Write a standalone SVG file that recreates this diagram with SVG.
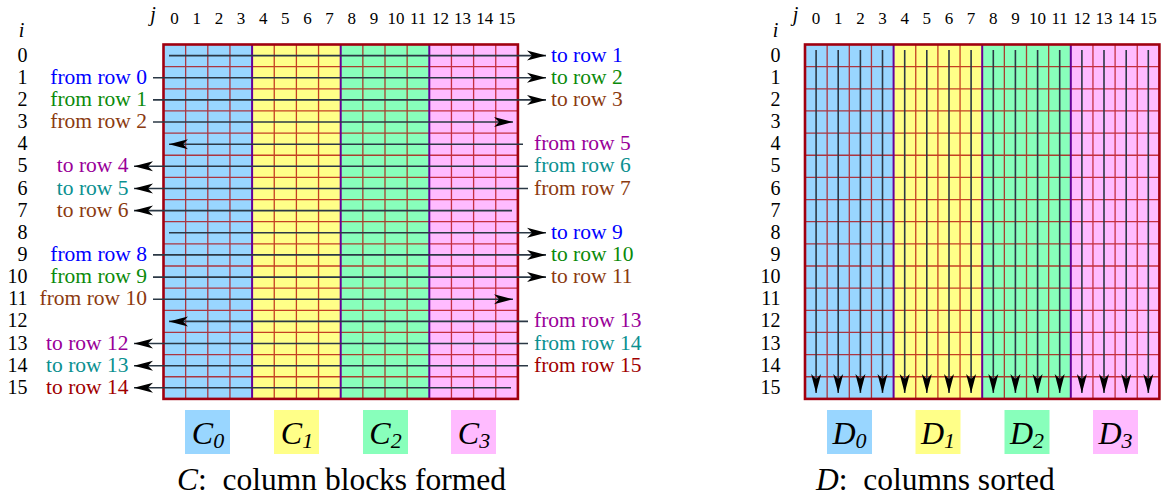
<svg xmlns="http://www.w3.org/2000/svg" xmlns:xlink="http://www.w3.org/1999/xlink" width="1165" height="502" viewBox="0 0 1165 502" font-family="'Liberation Serif', 'Times New Roman', serif">
<style>
text{font-family:'Liberation Serif','Times New Roman',serif;fill:#000}
tspan{font-family:'Liberation Serif','Times New Roman',serif}
.hdr{font-size:17px;text-anchor:middle}
.rn{font-size:20px;text-anchor:end}
.it{font-style:italic;font-size:20px;text-anchor:middle}
.lab{font-size:21.5px}
.e{text-anchor:end}
.blue{fill:#0000ff}.green{fill:#0a8a0a}.brown{fill:#8b3a0f}.purple{fill:#990099}.teal{fill:#0a9090}.dred{fill:#a00000}
.gl{fill:none;stroke:#b00000;stroke-opacity:0.75;stroke-width:1.3}
.sep{stroke:#660099;stroke-width:2}
.bd{fill:none;stroke:#a00010;stroke-width:2.6}
.dl{fill:none;stroke:#2b3845;stroke-width:1.6}
.big{font-size:32px;font-style:italic;text-anchor:middle}
.sub{font-size:22px}
.cap{font-size:31.5px}
</style>
<defs>
<marker id="ah" markerUnits="userSpaceOnUse" markerWidth="22" markerHeight="12" refX="19" refY="5" orient="auto" overflow="visible">
<path d="M0,0 L19,5 L0,10 L5,5 Z" fill="#000"/>
</marker>
<g id="gridbase">
<rect x="0" y="0" width="88.6" height="354.4" fill="#99d6ff"/>
<rect x="88.6" y="0" width="88.6" height="354.4" fill="#ffff88"/>
<rect x="177.2" y="0" width="88.6" height="354.4" fill="#88ffbb"/>
<rect x="265.8" y="0" width="88.6" height="354.4" fill="#ffbbff"/>
<path class="gl" d="M22.15 0V354.4M44.3 0V354.4M66.45 0V354.4M110.75 0V354.4M132.9 0V354.4M155.05 0V354.4M199.35 0V354.4M221.5 0V354.4M243.65 0V354.4M287.95 0V354.4M310.1 0V354.4M332.25 0V354.4M0 22.15H354.4M0 44.3H354.4M0 66.45H354.4M0 88.6H354.4M0 110.75H354.4M0 132.9H354.4M0 155.05H354.4M0 177.2H354.4M0 199.35H354.4M0 221.5H354.4M0 243.65H354.4M0 265.8H354.4M0 287.95H354.4M0 310.1H354.4M0 332.25H354.4"/>
<path class="sep" d="M88.6 0V354.4M177.2 0V354.4M265.8 0V354.4"/>
<rect class="bd" x="0" y="0" width="354.4" height="354.4"/>
</g>
</defs>

<g id="headers-left">
<text class="it" x="153" y="21">j</text>
<text class="it" x="21.5" y="37">i</text>
<text class="hdr" y="23.5"><tspan x="174.6">0</tspan><tspan x="196.7">1</tspan><tspan x="218.9">2</tspan><tspan x="241">3</tspan><tspan x="263.2">4</tspan><tspan x="285.3">5</tspan><tspan x="307.5">6</tspan><tspan x="329.6">7</tspan><tspan x="351.8">8</tspan><tspan x="373.9">9</tspan><tspan x="396.1">10</tspan><tspan x="418.2">11</tspan><tspan x="440.4">12</tspan><tspan x="462.5">13</tspan><tspan x="484.7">14</tspan><tspan x="506.8">15</tspan></text>
<text class="rn"><tspan x="27.5" y="61.6">0</tspan><tspan x="27.5" y="83.7">1</tspan><tspan x="27.5" y="105.9">2</tspan><tspan x="27.5" y="128">3</tspan><tspan x="27.5" y="150.2">4</tspan><tspan x="27.5" y="172.3">5</tspan><tspan x="27.5" y="194.5">6</tspan><tspan x="27.5" y="216.6">7</tspan><tspan x="27.5" y="238.8">8</tspan><tspan x="27.5" y="260.9">9</tspan><tspan x="27.5" y="283.1">10</tspan><tspan x="27.5" y="305.2">11</tspan><tspan x="27.5" y="327.4">12</tspan><tspan x="27.5" y="349.5">13</tspan><tspan x="27.5" y="371.7">14</tspan><tspan x="27.5" y="393.8">15</tspan></text>
</g>

<g id="grid-C">
<use xlink:href="#gridbase" href="#gridbase" x="163.5" y="44.5"/>
</g>

<g id="connectors-C">
<path class="dl" marker-end="url(#ah)" d="M169 55.6H546"/>
<path class="dl" marker-end="url(#ah)" d="M153 77.7H546"/>
<path class="dl" marker-end="url(#ah)" d="M153 99.9H546"/>
<path class="dl" marker-end="url(#ah)" d="M153 122H513"/>
<path class="dl" marker-end="url(#ah)" d="M523 144.2H169"/>
<path class="dl" marker-end="url(#ah)" d="M528 166.3H134"/>
<path class="dl" marker-end="url(#ah)" d="M528 188.5H134"/>
<path class="dl" marker-end="url(#ah)" d="M512 210.6H134"/>
<path class="dl" marker-end="url(#ah)" d="M169 232.8H546"/>
<path class="dl" marker-end="url(#ah)" d="M153 254.9H546"/>
<path class="dl" marker-end="url(#ah)" d="M153 277.1H546"/>
<path class="dl" marker-end="url(#ah)" d="M153 299.2H513"/>
<path class="dl" marker-end="url(#ah)" d="M528 321.4H169"/>
<path class="dl" marker-end="url(#ah)" d="M528 343.5H134"/>
<path class="dl" marker-end="url(#ah)" d="M528 365.7H134"/>
<path class="dl" marker-end="url(#ah)" d="M511 387.8H134"/>
</g>

<g id="labels-C-left">
<text class="lab e blue" x="147" y="83.7">from row 0</text>
<text class="lab e green" x="147" y="105.9">from row 1</text>
<text class="lab e brown" x="147" y="128">from row 2</text>
<text class="lab e purple" x="128.5" y="172.3">to row 4</text>
<text class="lab e teal" x="128.5" y="194.5">to row 5</text>
<text class="lab e brown" x="128.5" y="216.6">to row 6</text>
<text class="lab e blue" x="147" y="260.9">from row 8</text>
<text class="lab e green" x="147" y="283.1">from row 9</text>
<text class="lab e brown" x="147" y="305.2">from row 10</text>
<text class="lab e purple" x="128.5" y="349.5">to row 12</text>
<text class="lab e teal" x="128.5" y="371.7">to row 13</text>
<text class="lab e dred" x="128.5" y="393.8">to row 14</text>
</g>

<g id="labels-C-right">
<text class="lab blue" x="551" y="61.6">to row 1</text>
<text class="lab green" x="551" y="83.7">to row 2</text>
<text class="lab brown" x="551" y="105.9">to row 3</text>
<text class="lab purple" x="534" y="150.2">from row 5</text>
<text class="lab teal" x="534" y="172.3">from row 6</text>
<text class="lab brown" x="534" y="194.5">from row 7</text>
<text class="lab blue" x="551" y="238.8">to row 9</text>
<text class="lab green" x="551" y="260.9">to row 10</text>
<text class="lab brown" x="551" y="283.1">to row 11</text>
<text class="lab purple" x="534" y="327.4">from row 13</text>
<text class="lab teal" x="534" y="349.5">from row 14</text>
<text class="lab dred" x="534" y="371.7">from row 15</text>
</g>

<g id="blocks-C">
<rect x="185" y="410" width="45" height="44" fill="#99d6ff"/>
<rect x="274" y="410" width="45" height="44" fill="#ffff88"/>
<rect x="363" y="410" width="45" height="44" fill="#88ffbb"/>
<rect x="451" y="410" width="45" height="44" fill="#ffbbff"/>
<text class="big" x="208" y="444">C<tspan class="sub" dy="4">0</tspan></text>
<text class="big" x="297" y="444">C<tspan class="sub" dy="4">1</tspan></text>
<text class="big" x="385.5" y="444">C<tspan class="sub" dy="4">2</tspan></text>
<text class="big" x="474" y="444">C<tspan class="sub" dy="4">3</tspan></text>
</g>
<text id="caption-C" class="cap" x="177" y="490" xml:space="preserve"><tspan font-style="italic">C</tspan>:  column blocks formed</text>

<g id="headers-right">
<text class="it" x="795.5" y="21">j</text>
<text class="it" x="775.5" y="37">i</text>
<text class="hdr" y="23.5"><tspan x="816.1">0</tspan><tspan x="838.2">1</tspan><tspan x="860.4">2</tspan><tspan x="882.5">3</tspan><tspan x="904.7">4</tspan><tspan x="926.8">5</tspan><tspan x="949">6</tspan><tspan x="971.1">7</tspan><tspan x="993.3">8</tspan><tspan x="1015.4">9</tspan><tspan x="1037.6">10</tspan><tspan x="1059.7">11</tspan><tspan x="1081.9">12</tspan><tspan x="1104">13</tspan><tspan x="1126.2">14</tspan><tspan x="1148.3">15</tspan></text>
<text class="rn"><tspan x="780.5" y="61.6">0</tspan><tspan x="780.5" y="83.7">1</tspan><tspan x="780.5" y="105.9">2</tspan><tspan x="780.5" y="128">3</tspan><tspan x="780.5" y="150.2">4</tspan><tspan x="780.5" y="172.3">5</tspan><tspan x="780.5" y="194.5">6</tspan><tspan x="780.5" y="216.6">7</tspan><tspan x="780.5" y="238.8">8</tspan><tspan x="780.5" y="260.9">9</tspan><tspan x="780.5" y="283.1">10</tspan><tspan x="780.5" y="305.2">11</tspan><tspan x="780.5" y="327.4">12</tspan><tspan x="780.5" y="349.5">13</tspan><tspan x="780.5" y="371.7">14</tspan><tspan x="780.5" y="393.8">15</tspan></text>
</g>

<g id="grid-D">
<use xlink:href="#gridbase" href="#gridbase" x="805" y="44.5"/>
</g>

<g id="connectors-D">
<path class="dl" marker-end="url(#ah)" d="M816.1 50V393"/>
<path class="dl" marker-end="url(#ah)" d="M838.2 50V393"/>
<path class="dl" marker-end="url(#ah)" d="M860.4 50V393"/>
<path class="dl" marker-end="url(#ah)" d="M882.5 50V393"/>
<path class="dl" marker-end="url(#ah)" d="M904.7 50V393"/>
<path class="dl" marker-end="url(#ah)" d="M926.8 50V393"/>
<path class="dl" marker-end="url(#ah)" d="M949 50V393"/>
<path class="dl" marker-end="url(#ah)" d="M971.1 50V393"/>
<path class="dl" marker-end="url(#ah)" d="M993.3 50V393"/>
<path class="dl" marker-end="url(#ah)" d="M1015.4 50V393"/>
<path class="dl" marker-end="url(#ah)" d="M1037.6 50V393"/>
<path class="dl" marker-end="url(#ah)" d="M1059.7 50V393"/>
<path class="dl" marker-end="url(#ah)" d="M1081.9 50V393"/>
<path class="dl" marker-end="url(#ah)" d="M1104 50V393"/>
<path class="dl" marker-end="url(#ah)" d="M1126.2 50V393"/>
<path class="dl" marker-end="url(#ah)" d="M1148.3 50V393"/>
</g>

<g id="blocks-D">
<rect x="827" y="410" width="45" height="44" fill="#99d6ff"/>
<rect x="915.5" y="410" width="45" height="44" fill="#ffff88"/>
<rect x="1004.5" y="410" width="45" height="44" fill="#88ffbb"/>
<rect x="1093" y="410" width="45" height="44" fill="#ffbbff"/>
<text class="big" x="849.5" y="444">D<tspan class="sub" dy="4">0</tspan></text>
<text class="big" x="938" y="444">D<tspan class="sub" dy="4">1</tspan></text>
<text class="big" x="1027" y="444">D<tspan class="sub" dy="4">2</tspan></text>
<text class="big" x="1115.5" y="444">D<tspan class="sub" dy="4">3</tspan></text>
</g>
<text id="caption-D" class="cap" x="816" y="490" xml:space="preserve"><tspan font-style="italic">D</tspan>:  columns sorted</text>
</svg>
